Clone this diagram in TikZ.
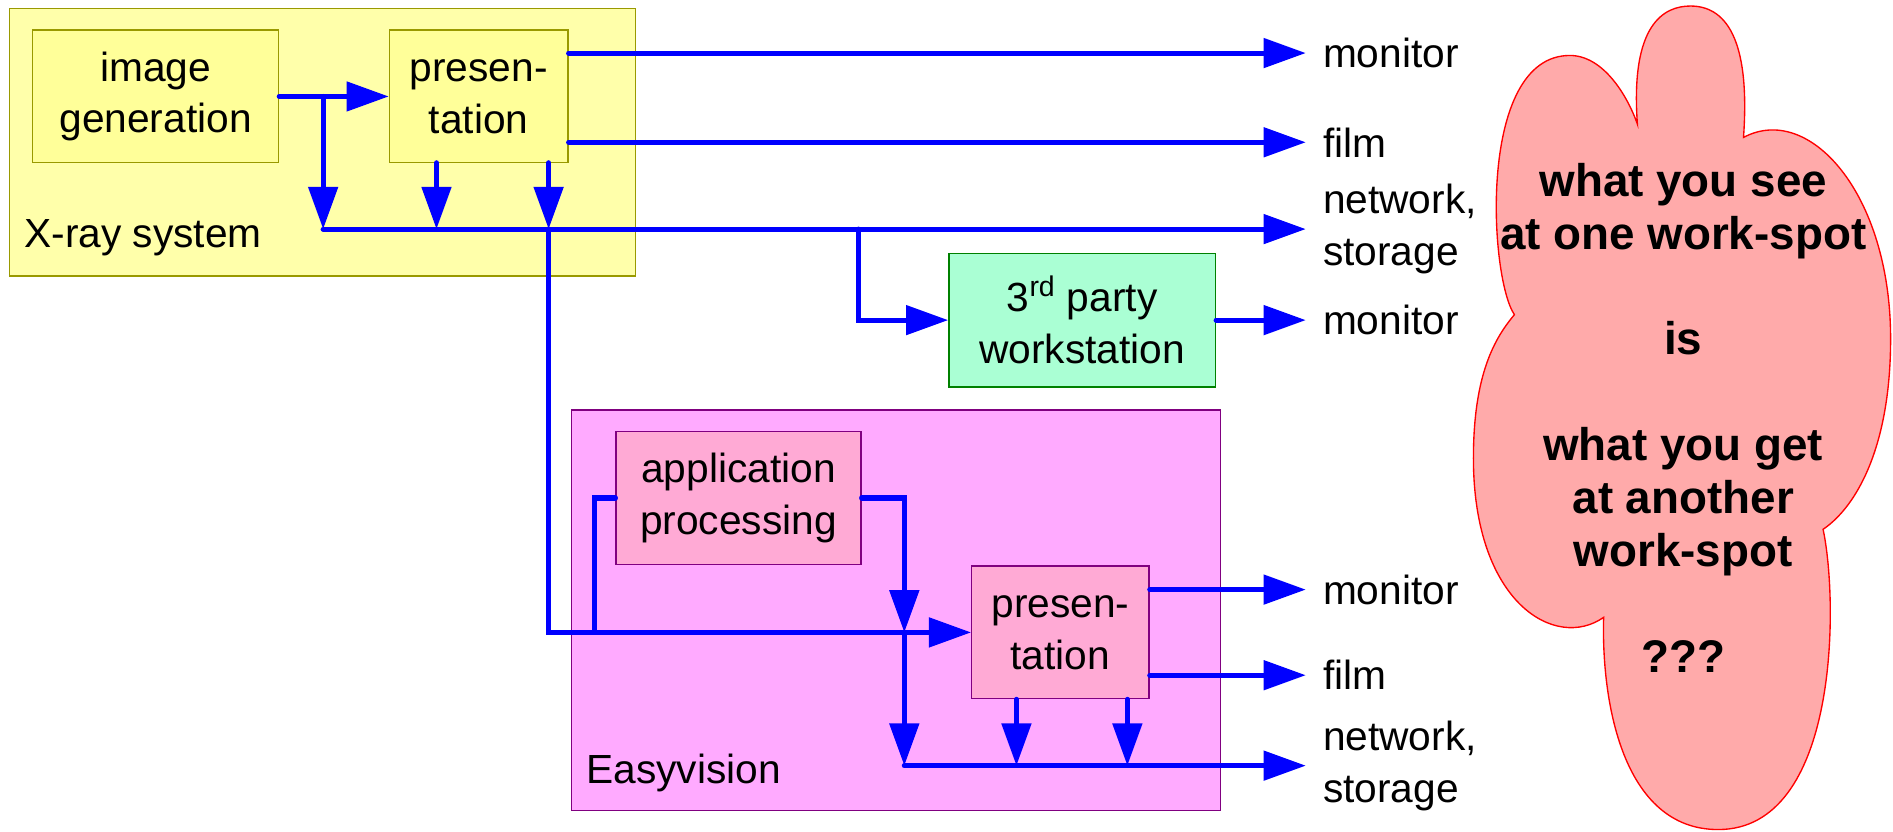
\documentclass[tikz,border=0pt]{standalone}
\usepackage{fontspec}
\setmainfont{Liberation Sans}
\usepackage{tikz}
\usetikzlibrary{arrows.meta}
\pgfdeclarelayer{bg}
\pgfsetlayers{bg,main}
\definecolor{xrayfill}{HTML}{FFFFAA}
\definecolor{xraybox}{HTML}{FFFF99}
\definecolor{olivebd}{HTML}{999900}
\definecolor{mintfill}{HTML}{AAFFD4}
\definecolor{greenbd}{HTML}{008000}
\definecolor{easyfill}{HTML}{FFAAFF}
\definecolor{pinkfill}{HTML}{FFAAD5}
\definecolor{purplebd}{HTML}{800080}
\definecolor{cloudfill}{HTML}{FFAAAA}
\tikzset{
    every node/.style={inner sep=0mm, font=\fontsize{24}{30.6}\selectfont}
}
\tikzset{
    yelbox/.style={rectangle, draw=olivebd, fill=xraybox, line width=0.8pt, align=center, minimum height=2.75cm},
    wsbox/.style={rectangle, draw=greenbd, fill=mintfill, line width=0.8pt, align=center, minimum width=5.525cm, minimum height=2.775cm},
    pinkbox/.style={rectangle, draw=purplebd, fill=pinkfill, line width=0.8pt, align=center, minimum height=2.75cm},
    outlbl/.style={anchor=west, inner xsep=0.35cm, align=left},
    wire/.style={draw=blue, line width=3pt, line cap=round},
    flow/.style={wire, -{Triangle[length=0.875cm, width=0.6cm]}}
}

\begin{document}
\begin{tikzpicture}[x=0.025cm, y=-0.025cm]
    \useasboundingbox (0,0) rectangle (1570,690);

    \begin{pgfonlayer}{bg}
        \node (xray) [rectangle, draw=olivebd, fill=xrayfill, line width=0.8pt, minimum width=12.975cm, minimum height=5.55cm] at (267.5,118) {};
        \node (easy) [rectangle, draw=purplebd, fill=easyfill, line width=0.8pt, minimum width=13.45cm, minimum height=8.3cm] at (743,506) {};
    \end{pgfonlayer}
    \node (xraylbl) [anchor=base west] at (20,205) {X-ray system};
    \node (easylbl) [anchor=base west] at (486,650) {Easyvision};

    \node (imggen) [yelbox, minimum width=5.1cm] at (129,80) {image\\generation};
    \node (pres1) [yelbox, minimum width=3.7cm] at (397,80) {presen-\\tation};
    \node (ws) [wsbox] at (897.5,265.5) {3\textsuperscript{rd} party\\workstation};
    \node (app) [pinkbox, minimum width=5.075cm] at (612.5,413) {application\\processing};
    \node (pres2) [pinkbox, minimum width=3.675cm] at (879.5,524.5) {presen-\\tation};

    % outputs
    \node (mon1) [outlbl] at (1083,44) {monitor};
    \node (film1) [outlbl] at (1083,118) {film};
    \node (net1) [outlbl] at (1083,190) {network,\\storage};
    \node (mon2) [outlbl] at (1083,265.5) {monitor};
    \node (mon3) [outlbl] at (1083,489) {monitor};
    \node (film2) [outlbl] at (1083,560) {film};
    \node (net2) [outlbl] at (1083,635) {network,\\storage};

    % junctions
    \coordinate (t1) at (268,80);
    \coordinate (b1) at (268,190);
    \coordinate (p1a) at (362,135);
    \coordinate (b1a) at (362,190);
    \coordinate (p1b) at (455,135);
    \coordinate (b1b) at (455,190);
    \coordinate (b1w) at (712,190);
    \coordinate (m1) at (493,524.5);
    \coordinate (a1) at (750,524.5);
    \coordinate (b2) at (750,635);
    \coordinate (p2a) at (843,580);
    \coordinate (b2a) at (843,635);
    \coordinate (p2b) at (935,580);
    \coordinate (b2b) at (935,635);

    \draw[flow] (imggen) -- (pres1);
    \draw[flow] (t1) -- (b1);
    \draw[flow] (p1a) -- (b1a);
    \draw[flow] (p1b) -- (b1b);
    \draw[flow] (pres1.east |- mon1) -- (mon1);
    \draw[flow] (pres1.east |- film1) -- (film1);
    \draw[flow] (b1) -- (net1);
    \draw[flow] (b1w) |- (ws);
    \draw[flow] (ws) -- (mon2);
    \draw[flow] (b1b) |- (pres2);
    \draw[wire] (m1) |- (app);
    \draw[flow] (app) -| (a1);
    \draw[flow] (a1) -- (b2);
    \draw[flow] (p2a) -- (b2a);
    \draw[flow] (p2b) -- (b2b);
    \draw[flow] (b2) -- (net2);
    \draw[flow] (pres2.east |- mon3) -- (mon3);
    \draw[flow] (pres2.east |- film2) -- (film2);

    % cloud
    \draw[draw=red, fill=cloudfill, line width=0.8pt] (1358,103)
        .. controls (1352,20) and (1380,5) .. (1402,5)
        .. controls (1430,5) and (1452,30) .. (1446,114)
        .. controls (1500,85) and (1568,160) .. (1568,281)
        .. controls (1568,370) and (1540,420) .. (1512,439)
        .. controls (1525,500) and (1525,688) .. (1425,688)
        .. controls (1345,688) and (1328,580) .. (1330,512)
        .. controls (1290,540) and (1222,500) .. (1222,380)
        .. controls (1222,310) and (1240,280) .. (1256,261)
        .. controls (1235,230) and (1225,46) .. (1302,46)
        .. controls (1330,46) and (1350,80) .. (1358,103) -- cycle;
    \node (quote) [anchor=north, align=center, font=\bfseries\fontsize{27}{31.2}\selectfont] at (1396,135)
        {what you see\\at one work-spot\\ \\is\\ \\what you get\\at another\\work-spot\\ \\???};
\end{tikzpicture}
\end{document}
